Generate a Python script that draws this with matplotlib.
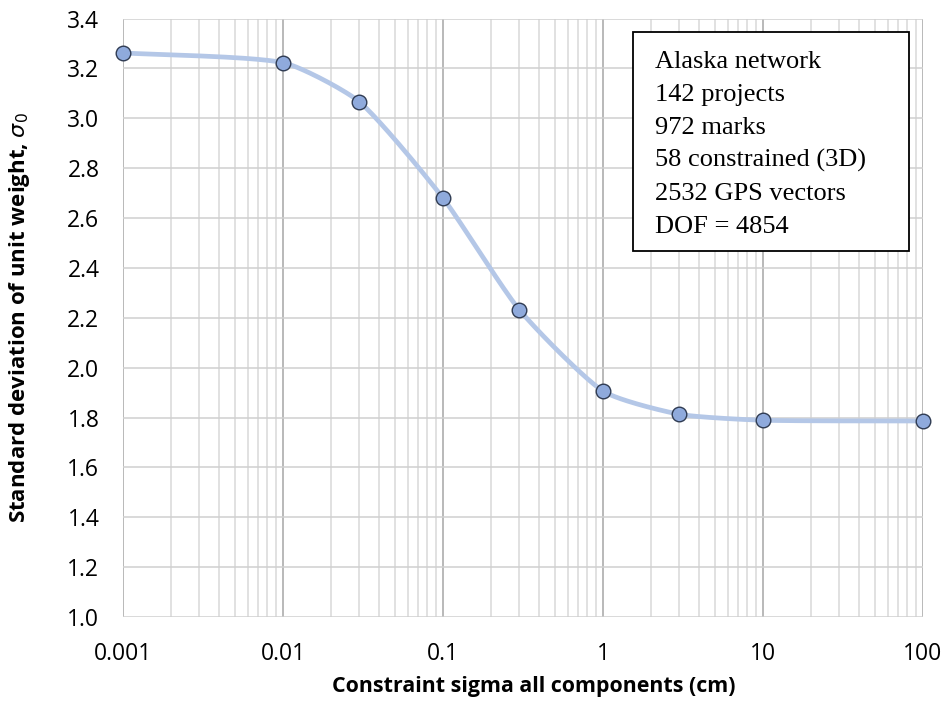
import matplotlib
matplotlib.use("Agg")
import matplotlib.pyplot as plt
import numpy as np
from matplotlib.patches import Rectangle
from matplotlib.ticker import FixedLocator, LogLocator, NullFormatter

# data
sigma_cm = [0.001, 0.01, 0.03, 0.1, 0.3, 1, 3, 10, 100]
sigma0 = [3.262, 3.223, 3.066, 2.680, 2.232, 1.906, 1.813, 1.789, 1.786]
xtick_vals = [0.001, 0.01, 0.1, 1, 10, 100]
xtick_labels = ["0.001", "0.01", "0.1", "1", "10", "100"]
ytick_vals = [1.0, 1.2, 1.4, 1.6, 1.8, 2.0, 2.2, 2.4, 2.6, 2.8, 3.0, 3.2, 3.4]
info_lines = ["Alaska network", "142 projects", "972 marks",
              "58 constrained (3D)", "2532 GPS vectors", "DOF = 4854"]

plt.rcParams['font.family'] = ['Open Sans', 'DejaVu Sans']
plt.rcParams['mathtext.fontset'] = 'dejavusans'

W, H = 942, 703
fig = plt.figure(figsize=(W / 100, H / 100), dpi=100)
left, right, top, bottom = 123, 923, 18.5, 617
ax = fig.add_axes([left / W, 1 - bottom / H, (right - left) / W, (bottom - top) / H])

# screen scale: px per decade and px per unit of y
sx_scale = (right - left) / 5.0
sy_scale = (bottom - top) / 2.4


def smooth(xs, ys, n=40, k=0.2):
    # smoothed line in screen space, tangent along neighbours, handle length from segment length
    P = np.column_stack([np.log10(xs) * sx_scale, np.array(ys) * sy_scale])
    m = len(P)
    T = np.zeros_like(P)
    for i in range(m):
        a = P[max(i - 1, 0)]
        b = P[min(i + 1, m - 1)]
        d = b - a
        T[i] = d / np.hypot(*d)
    out = []
    t = np.linspace(0, 1, n)[:, None]
    for i in range(m - 1):
        L = np.hypot(*(P[i + 1] - P[i]))
        c1 = P[i] + T[i] * L * k
        c2 = P[i + 1] - T[i + 1] * L * k
        b = ((1 - t) ** 3 * P[i] + 3 * (1 - t) ** 2 * t * c1
             + 3 * (1 - t) * t ** 2 * c2 + t ** 3 * P[i + 1])
        out.append(b)
    out = np.vstack(out)
    return 10 ** (out[:, 0] / sx_scale), out[:, 1] / sy_scale


cx, cy = smooth(sigma_cm, sigma0)
ax.plot(cx, cy, color='#b4c7e7', lw=3.4, zorder=3, solid_capstyle='round')
ax.plot(sigma_cm, sigma0, 'o', ms=10.5, mfc='#8faadc', mec='#2f3b52', mew=1.0, zorder=4,
        clip_on=False)

ax.set_xscale('log')
ax.set_xlim(0.001, 100)
ax.set_ylim(1.0, 3.4)
ax.xaxis.set_major_locator(FixedLocator(xtick_vals))
ax.set_xticks(xtick_vals)
ax.set_xticklabels(xtick_labels)
ax.xaxis.set_minor_locator(LogLocator(base=10, subs=np.arange(2, 10)))
ax.xaxis.set_minor_formatter(NullFormatter())
ax.set_yticks(ytick_vals)
ax.set_yticklabels(["%.1f" % v for v in ytick_vals])

ax.grid(which='major', axis='x', color='#a6a6a6', lw=1.1)
ax.grid(which='minor', axis='x', color='#d9d9d9', lw=1.1)
ax.grid(which='major', axis='y', color='#d0d0d0', lw=1.1)
ax.set_axisbelow(True)
for s in ax.spines.values():
    s.set_visible(False)
ax.tick_params(axis='x', which='both', length=0, labelsize=16.5, pad=18)
ax.tick_params(axis='y', which='both', length=0, labelsize=16.5, pad=17)

ax.set_xlabel("Constraint sigma all components (cm)", fontsize=15.4, fontweight='bold')
ax.set_ylabel(r"Standard deviation of unit weight, $\sigma_0$", fontsize=16,
              fontweight='bold')
ax.xaxis.set_label_coords(0.514, -0.098)
ax.yaxis.set_label_coords(-0.114, 0.5)

# info box
fig.patches.append(Rectangle((633 / W, 1 - 251 / H), 276 / W, 219 / H,
                             transform=fig.transFigure, fc='white', ec='black', lw=1.3,
                             zorder=5))
for i, line in enumerate(info_lines):
    base = 67.7 + i * 33.1
    fig.text(655 / W, 1 - base / H, line, family=['Liberation Serif'], fontsize=19,
             va='baseline', ha='left', zorder=6)

plt.savefig('out.png', dpi=100)
